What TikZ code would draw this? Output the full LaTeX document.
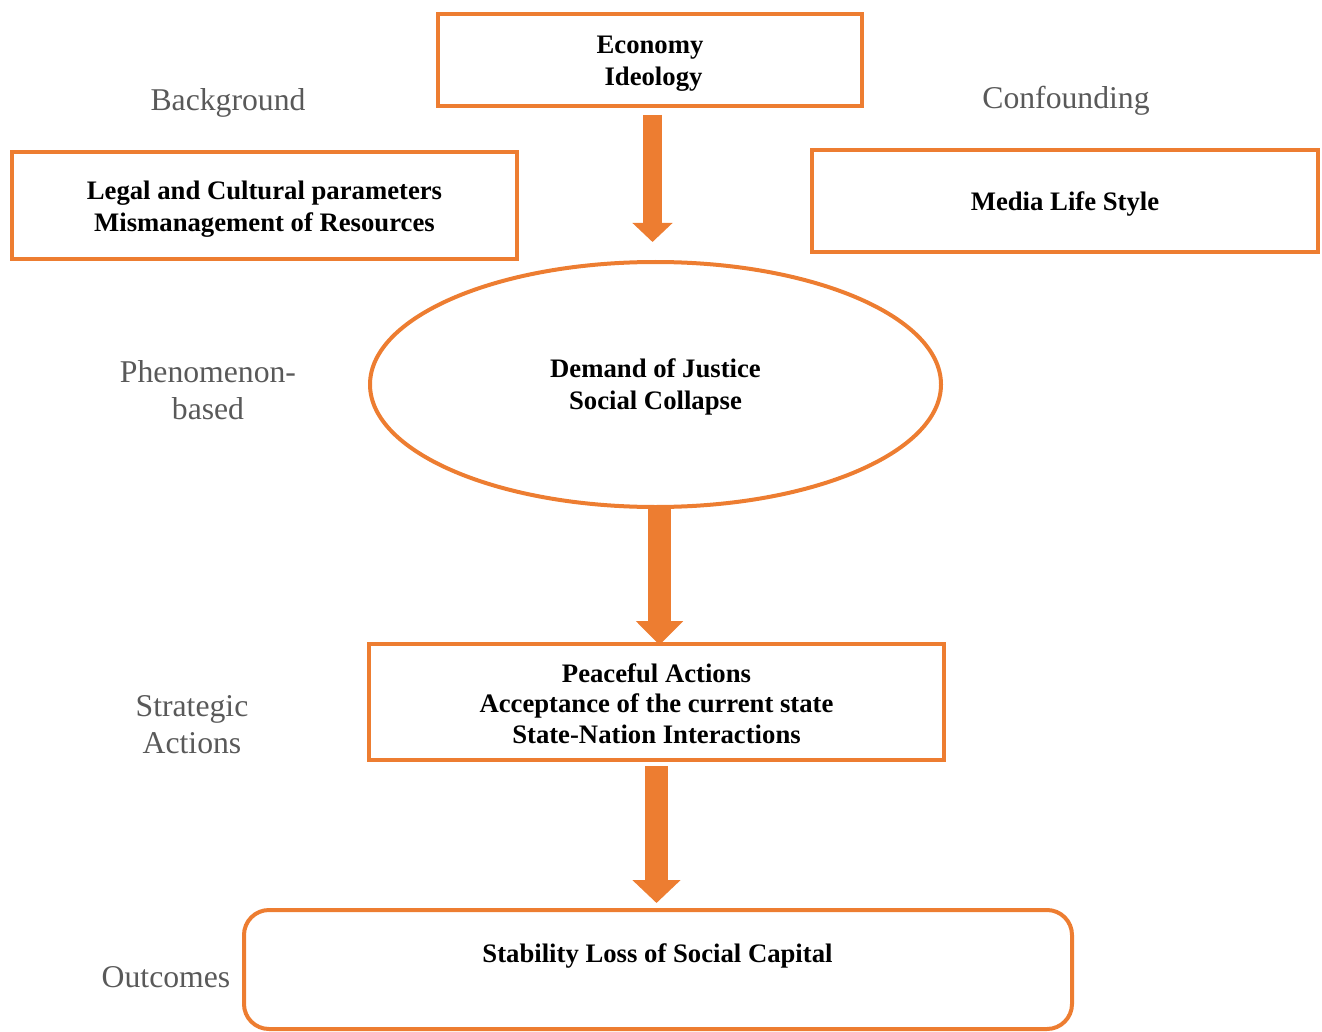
\documentclass[tikz,border=0pt]{standalone}
\usepackage{fontspec}
\setmainfont{Liberation Serif}
\usetikzlibrary{shapes.geometric,arrows.meta}
\definecolor{orng}{HTML}{ED7D31}
\definecolor{gtxt}{HTML}{595959}
\tikzset{
  obox/.style={draw=orng, line width=4pt, inner sep=0pt},
  oell/.style={obox, ellipse},
  gl/.style={text=gtxt, align=center, inner sep=0pt,
    font=\fontsize{31.7}{37}\selectfont},
  btxt/.style={align=center, inner sep=0pt,
    font=\fontsize{26.7}{32}\selectfont\bfseries},
}
\begin{document}
\begin{tikzpicture}[x=1pt,y=-1pt]
\useasboundingbox (0,0) rectangle (1322,1032);
\node[obox, minimum width=424pt, minimum height=92pt] (econ) at (650,60) {};
\node[btxt] (econt) at (650,63.5) {Economy\\\hspace*{7pt}Ideology};
\node[obox, minimum width=505pt, minimum height=107pt] (legal) at (264.5,205.5) {};
\node[btxt] (legalt) at (264.5,209) {Legal and Cultural parameters\\Mismanagement of Resources};
\node[obox, minimum width=506pt, minimum height=102pt] (media) at (1065,201) {};
\node[btxt] (mediat) at (1065,204) {Media Life Style};
\node[oell, minimum width=571pt, minimum height=245pt] (ell) at (655.5,384.5) {};
\node[btxt] (ellt) at (655.5,387) {Demand of Justice\\Social Collapse};
\node[obox, minimum width=575pt, minimum height=116pt] (peace) at (656.5,702) {};
\node[btxt, font=\fontsize{26.7}{30.5}\selectfont\bfseries] (peacet) at (656.5,703.5) {Peaceful Actions\\Acceptance of the current state\\State-Nation Interactions};
\node[obox, rounded corners=25pt, minimum width=828pt, minimum height=119pt] (stab) at (658,969.5) {};
\node[btxt] (stabt) at (657.5,956) {Stability Loss of Social Capital};

\node[gl] (bg) at (228,103) {Background};
\node[gl] (cf) at (1066,101) {Confounding};
\node[gl] (ph) at (208,390.5) {Phenomenon-\\based};
\node[gl] (sa) at (192,725) {Strategic\\Actions};
\node[gl] (oc) at (166,977) {Outcomes};

\draw[orng, line width=19pt, -{Triangle[width=39pt,length=19pt]}]
  ([xshift=2.5pt,yshift=-7pt]econ.south) -- ([xshift=-3pt,yshift=18pt]ell.north);
\draw[orng, line width=23pt, -{Triangle[width=46pt,length=24pt]}]
  ([xshift=4pt,yshift=2pt]ell.south) -- ([xshift=3pt,yshift=-3pt]peace.north);
\draw[orng, line width=23pt, -{Triangle[width=47pt,length=23pt]}]
  ([yshift=-4pt]peace.south) -- ([xshift=-1.5pt,yshift=5pt]stab.north);
\end{tikzpicture}
\end{document}
